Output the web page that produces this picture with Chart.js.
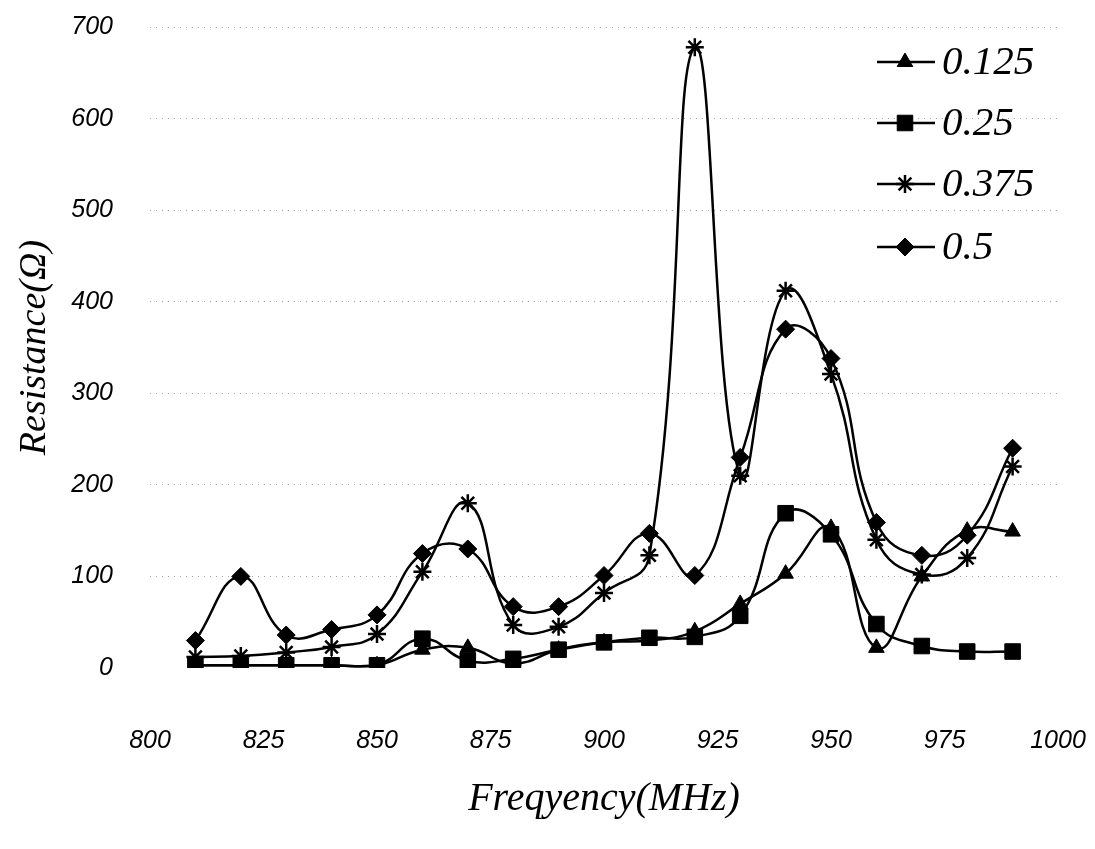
<!DOCTYPE html>
<html>
<head>
<meta charset="utf-8">
<script src="https://cdn.jsdelivr.net/npm/chart.js@4/dist/chart.umd.min.js"></script>
<style>
html,body{margin:0;padding:0;background:#fff;}
canvas{display:block;}
</style>
</head>
<body>
<canvas id="c" width="1095" height="849"></canvas>
<script>
const frequencies = [810,820,830,840,850,860,870,880,890,900,910,920,930,940,950,960,970,980,990];
const seriesLabels = ['0.125','0.25','0.375','0.5'];
const r0125 = [3,3,3,3,3,20,22,5,20,28,30,40,70,103,153,22,100,150,149];
const r025  = [3,3,3,3,3,32,8,10,20,28,33,34,57,169,146,48,24,18,18];
const r0375 = [12,13,17,23,37,105,180,47,45,82,123,678,210,412,321,140,102,120,220];
const r05   = [30,100,36,42,58,125,130,67,67,101,147,101,230,370,338,159,123,145,240];
const xTicks = [800,825,850,875,900,925,950,975,1000];
const yTicks = [0,100,200,300,400,500,600,700];
const xTitle = 'Freqyency(MHz)';
const yTitle = 'Resistance(\u03A9)';

function pts(vals){ return frequencies.map((f,i)=>({x:f,y:vals[i]})); }

const styles = [
  {pointStyle:'triangle', radius:9},
  {pointStyle:'rect', radius:11},
  {pointStyle:'star', radius:9},
  {pointStyle:'rectRot', radius:9}
];
const allVals = [r0125, r025, r0375, r05];

const datasets = allVals.map((v,i)=>({
  label: seriesLabels[i],
  data: pts(v),
  borderColor:'#000',
  backgroundColor:'#000',
  borderWidth:2.5,
  pointStyle: styles[i].pointStyle,
  pointRadius: styles[i].radius,
  pointBorderWidth: styles[i].pointStyle==='star' ? 2.5 : 1,
  pointBackgroundColor:'#000',
  pointBorderColor:'#000',
  tension:0.45,
  fill:false
}));

const legendPlugin = {
  id:'customLegend',
  afterDraw(chart){
    const ctx = chart.ctx;
    const rows = [62,123,184,247];
    ctx.save();
    chart.data.datasets.forEach((ds,i)=>{
      const y = rows[i];
      ctx.strokeStyle='#000';
      ctx.lineWidth=2.5;
      ctx.beginPath();
      ctx.moveTo(877,y); ctx.lineTo(935,y); ctx.stroke();
      ctx.fillStyle='#000';
      ctx.lineWidth=ds.pointBorderWidth;
      Chart.helpers.drawPoint(ctx,{pointStyle:ds.pointStyle,radius:ds.pointRadius,borderWidth:ds.pointBorderWidth,rotation:0},905,y);
      ctx.font='italic 41px "Liberation Serif"';
      ctx.textBaseline='middle';
      ctx.textAlign='left';
      ctx.fillText(ds.label,942,y+1);
    });
    ctx.restore();
  }
};

function zeroPad(s){ s.paddingLeft=0; s.paddingRight=0; s.paddingTop=0; s.paddingBottom=0; }

new Chart(document.getElementById('c'),{
  type:'line',
  data:{datasets},
  options:{
    responsive:false,
    animation:false,
    layout:{padding:{left:0,right:37,top:27,bottom:22}},
    plugins:{legend:{display:false},tooltip:{enabled:false}},
    scales:{
      x:{
        type:'linear',
        min:800,max:1000,
        afterBuildTicks(s){ s.ticks = xTicks.map(v=>({value:v})); },
        afterFit(s){ s.height = 849-668-22; zeroPad(s); },
        grid:{display:false,drawTicks:false},
        border:{display:false},
        ticks:{padding:58,color:'#000',callback:(v)=>String(v),font:{family:'"Liberation Sans"',style:'italic',size:25}},
        title:{display:true,text:xTitle,color:'#000',padding:{top:0,bottom:4},font:{family:'"Liberation Serif"',style:'italic',size:40}}
      },
      y:{
        min:0,max:700,
        afterBuildTicks(s){ s.ticks = yTicks.map(v=>({value:v})); },
        afterFit(s){ s.width = 150; zeroPad(s); },
        grid:{drawTicks:false,color:(c)=>c.tick && c.tick.value===0?'rgba(0,0,0,0)':'rgba(0,0,0,0.35)',lineWidth:1},
        border:{display:false,dash:[1,5]},
        ticks:{padding:37,color:'#000',callback:(v)=>String(v),font:{family:'"Liberation Sans"',style:'italic',size:25}},
        title:{display:true,text:yTitle,color:'#000',padding:{top:12,bottom:0},font:{family:'"Liberation Serif"',style:'italic',size:38}}
      }
    }
  },
  plugins:[legendPlugin]
});
</script>
</body>
</html>
